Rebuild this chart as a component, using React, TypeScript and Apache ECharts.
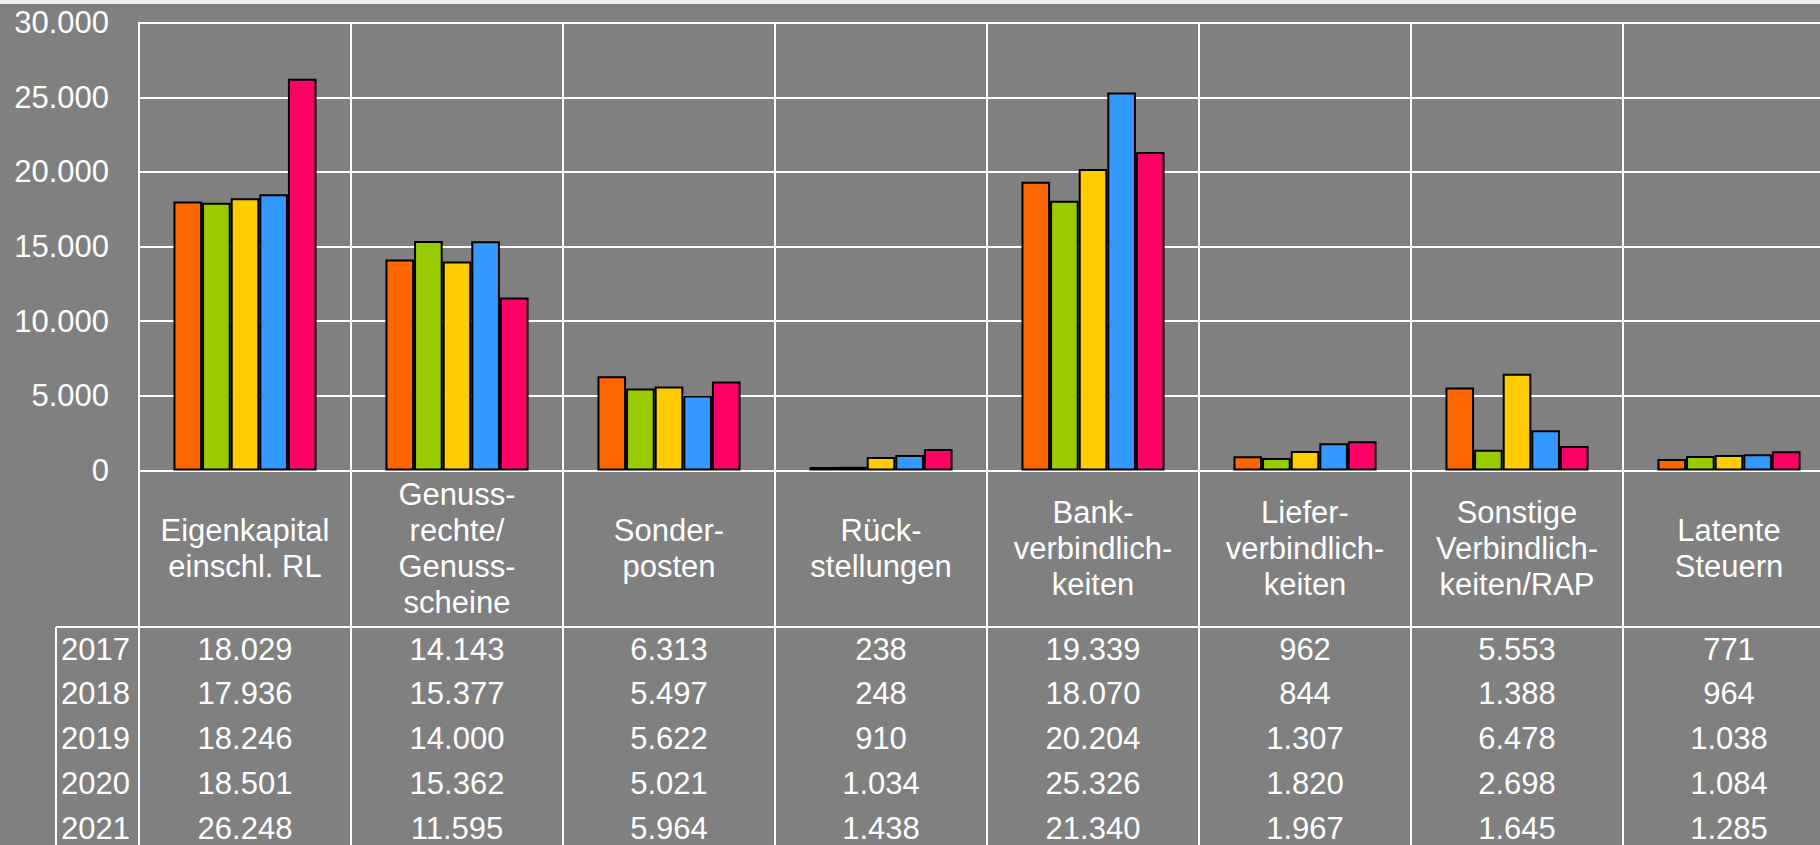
import React, { useEffect, useRef } from "react";
import * as echarts from "echarts";

const categories = [
  "Eigenkapital\neinschl. RL",
  "Genuss-\nrechte/\nGenuss-\nscheine",
  "Sonder-\nposten",
  "Rück-\nstellungen",
  "Bank-\nverbindlich-\nkeiten",
  "Liefer-\nverbindlich-\nkeiten",
  "Sonstige\nVerbindlich-\nkeiten/RAP",
  "Latente\nSteuern",
];

const years = ["2017", "2018", "2019", "2020", "2021"];

const v2017 = [18029, 14143, 6313, 238, 19339, 962, 5553, 771];
const v2018 = [17936, 15377, 5497, 248, 18070, 844, 1388, 964];
const v2019 = [18246, 14000, 5622, 910, 20204, 1307, 6478, 1038];
const v2020 = [18501, 15362, 5021, 1034, 25326, 1820, 2698, 1084];
const v2021 = [26248, 11595, 5964, 1438, 21340, 1967, 1645, 1285];

const seriesValues = [v2017, v2018, v2019, v2020, v2021];
const colors = ["#FF6600", "#99CC00", "#FFCC00", "#3399FF", "#FF0066"];

const yMin = 0;
const yMax = 30000;
const yInterval = 5000;

const fmt = (v: number) =>
  Math.round(v).toString().replace(/\B(?=(\d{3})+(?!\d))/g, ".");

const FONT = "'Liberation Sans', Arial, sans-serif";
const FS = 31;

const CHART_W = 1860;
const CHART_H = 880;

export default function App() {
  const ref = useRef<HTMLDivElement>(null);

  useEffect(() => {
    if (!ref.current) return;
    const chart = echarts.init(ref.current, null, { renderer: "svg" });

    const gridLeft = 139;
    const gridTop = 22.7;
    const zeroY = 470.5;
    const gridWidth = 1696;
    const rowFirst = 178.5;
    const rowStep = 44.8;
    const tableTop = 627;
    const yearX = 61;

    const rowAxes = seriesValues.map((vals, i) => ({
      type: "category",
      gridIndex: 0,
      position: "bottom",
      data: categories,
      axisLine: { show: false },
      axisTick: { show: false },
      splitLine: { show: false },
      axisLabel: {
        interval: 0,
        color: "#fff",
        fontSize: FS,
        fontFamily: FONT,
        margin: rowFirst + i * rowStep,
        verticalAlign: "middle",
        align: "center",
        formatter: (_v: string, idx: number) => fmt(vals[idx]),
      },
    }));

    const option: any = {
      animation: false,
      backgroundColor: "#808080",
      textStyle: { fontFamily: FONT },
      grid: [
        {
          left: gridLeft,
          top: gridTop,
          width: gridWidth,
          height: zeroY - gridTop,
          containLabel: false,
          outerBoundsMode: "none",
        },
        {
          left: gridLeft,
          top: zeroY,
          width: gridWidth,
          height: 400,
          containLabel: false,
          outerBoundsMode: "none",
        },
      ],
      xAxis: [
        {
          type: "category",
          gridIndex: 0,
          data: categories,
          axisLine: { show: true, lineStyle: { color: "#fff", width: 2 } },
          axisTick: { show: false },
          splitLine: { show: true, interval: 0, lineStyle: { color: "#fff", width: 2 } },
          axisLabel: {
            interval: 0,
            color: "#fff",
            fontSize: FS,
            fontFamily: FONT,
            lineHeight: 36,
            margin: 78,
            verticalAlign: "middle",
            align: "center",
          },
        },
        ...rowAxes,
        {
          type: "category",
          gridIndex: 1,
          data: categories,
          axisLine: { show: false },
          axisTick: { show: false },
          axisLabel: { show: false },
          splitLine: { show: true, interval: 0, lineStyle: { color: "#fff", width: 2 } },
        },
      ],
      yAxis: [
        {
          type: "value",
          gridIndex: 0,
          min: yMin,
          max: yMax,
          interval: yInterval,
          axisLine: { show: true, lineStyle: { color: "#fff", width: 2 } },
          axisTick: { show: false },
          splitLine: { show: true, lineStyle: { color: "#fff", width: 2 } },
          axisLabel: {
            color: "#fff",
            fontSize: FS,
            fontFamily: FONT,
            margin: 30,
            formatter: (v: number) => fmt(v),
          },
        },
        {
          type: "value",
          gridIndex: 1,
          show: false,
          splitLine: { show: false },
        },
      ],
      series: seriesValues.map((vals, i) => ({
        name: years[i],
        type: "bar",
        xAxisIndex: 0,
        yAxisIndex: 0,
        data: vals,
        barGap: "0%",
        barCategoryGap: "32.5%",
        itemStyle: { color: colors[i], borderColor: "#000", borderWidth: 2 },
      })),
      graphic: [
        {
          type: "rect",
          shape: { x: 0, y: 0, width: CHART_W, height: 4 },
          style: { fill: "#f0f0f0" },
          silent: true,
        },
        {
          type: "line",
          shape: { x1: 56, y1: tableTop, x2: CHART_W, y2: tableTop },
          style: { stroke: "#fff", lineWidth: 2 },
          silent: true,
        },
        {
          type: "line",
          shape: { x1: 56, y1: tableTop, x2: 56, y2: CHART_H },
          style: { stroke: "#fff", lineWidth: 2 },
          silent: true,
        },
        ...years.map((y, i) => ({
          type: "text",
          x: yearX,
          y: zeroY + rowFirst + i * rowStep,
          style: {
            text: y,
            fill: "#fff",
            font: `${FS}px ${FONT}`,
            textAlign: "left",
            textVerticalAlign: "middle",
          },
          silent: true,
        })),
      ],
    };

    chart.setOption(option);
    return () => chart.dispose();
  }, []);

  return (
    <div
      style={{
        position: "fixed",
        left: 0,
        top: 0,
        width: 1820,
        height: 845,
        overflow: "hidden",
      }}
    >
      <div ref={ref} style={{ width: CHART_W, height: CHART_H }} />
    </div>
  );
}
